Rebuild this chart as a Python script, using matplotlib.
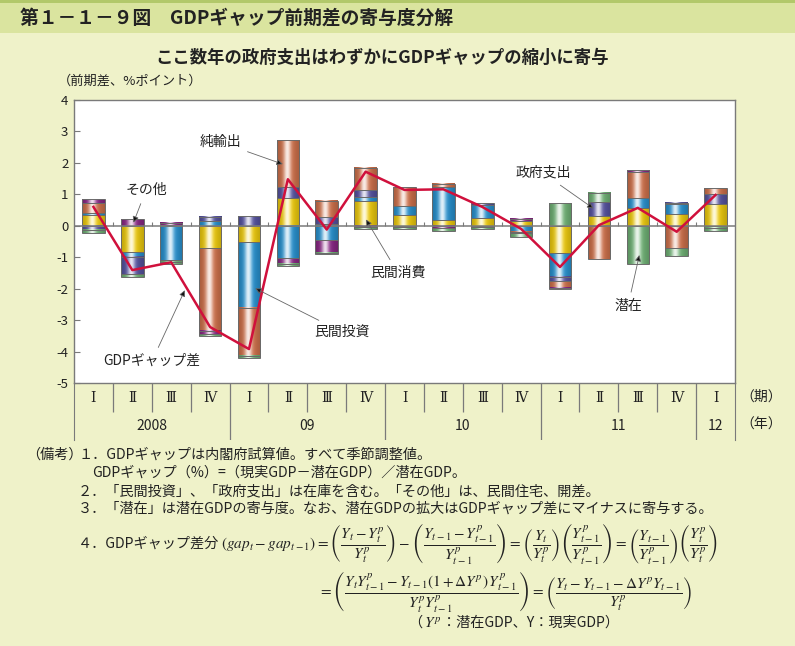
import numpy as np
import matplotlib
matplotlib.use('Agg')
import matplotlib.pyplot as plt
from matplotlib.colors import to_rgb
from matplotlib.patches import Rectangle

plt.rcParams['font.family'] = ['Noto Sans CJK JP', 'DejaVu Sans']
plt.rcParams['axes.unicode_minus'] = False
plt.rcParams['mathtext.fontset'] = 'stix'

W, H = 795, 646

# ── data ────────────────────────────────────────────────────────────────
quarter_labels = ['Ⅰ', 'Ⅱ', 'Ⅲ', 'Ⅳ'] * 4 + ['Ⅰ']
year_labels = ['2008', '09', '10', '11', '12']
year_first_q = [1, 5, 9, 13, 17]
year_last_q = [4, 8, 12, 16, 17]

consumption = [0.34, -0.84, 0.03, -0.72, -0.53, 0.89, 0.07, 0.79, 0.33,
               0.18, 0.25, 0.15, -0.86, 0.31, 0.58, 0.39, 0.70]
investment = [0.08, -0.15, -1.09, 0.16, -2.07, -1.04, -0.46, 0.14, 0.29,
              1.04, 0.41, -0.19, -0.76, 0.0, 0.29, 0.29, 0.0]
government = [-0.13, -0.55, -0.05, 0.13, 0.30, 0.35, 0.20, 0.21, -0.03,
              0.0, 0.05, 0.0, -0.13, 0.45, 0.0, 0.06, 0.30]
net_exports = [0.32, 0.0, 0.0, -2.63, -1.54, 1.49, 0.53, 0.71, 0.60,
               0.11, -0.03, -0.05, -0.22, -1.07, 0.85, -0.72, 0.19]
other = [0.11, 0.20, 0.07, -0.10, 0.0, -0.16, -0.39, -0.05, 0.0,
         -0.07, 0.0, 0.08, -0.04, 0.0, 0.05, 0.0, -0.06]
potential = [-0.10, -0.08, -0.07, -0.05, -0.08, -0.08, -0.06, -0.06, -0.06,
             -0.09, -0.08, -0.11, 0.71, 0.29, -1.20, -0.24, -0.11]
gdp_gap = [0.60, -1.41, -1.16, -3.22, -3.92, 1.48, -0.12, 1.72, 1.14,
           1.16, 0.60, -0.10, -1.31, 0.02, 0.57, -0.19, 0.98]

series = [consumption, investment, government, net_exports, other, potential]
colors = ['#f6d210', '#2b97d6', '#5a57a6', '#d6764f', '#8f2a8a', '#74b87a']

BG = '#eff2c9'


def fx(px):
    return px / W


def fy(py):
    return 1 - py / H


def shade(color, n=64):
    # cylinder-like horizontal gradient: light stripe left of centre
    base = np.array(to_rgb(color))
    t = np.linspace(0, 1, n)
    hi = 0.85 * np.exp(-((t - 0.45) / 0.16) ** 2)
    dark = 1 - 0.22 * np.abs(t - 0.5) * 2
    rgb = base[None, :] * dark[:, None]
    rgb = rgb + (1 - rgb) * hi[:, None]
    return rgb[None, :, :]


fig = plt.figure(figsize=(W / 100, H / 100), dpi=100, facecolor=BG)

# header band
fig.patches.append(Rectangle((0, fy(33)), 1, 33 / H, transform=fig.transFigure,
                             facecolor='#dae49f', edgecolor='none', zorder=0))
fig.patches.append(Rectangle((0, fy(3)), 1, 3 / H, transform=fig.transFigure,
                             facecolor='#b2c86a', edgecolor='none', zorder=0))
fig.text(fx(20), fy(18), '第１－１－９図　GDPギャップ前期差の寄与度分解',
         fontsize=13.5, fontweight='bold', color='#222', va='center', ha='left')
fig.text(fx(382), fy(58), 'ここ数年の政府支出はわずかにGDPギャップの縮小に寄与',
         fontsize=12.5, fontweight='bold', color='#222', va='center', ha='center')
fig.text(fx(58), fy(81), '（前期差、%ポイント）', fontsize=9.5, color='#222',
         va='center', ha='left')

# ── main chart ──────────────────────────────────────────────────────────
ax = fig.add_axes([fx(74), fy(383), (735 - 74) / W, (383 - 100) / H])
ax.set_facecolor('white')
n = len(gdp_gap)
x = np.arange(1, n + 1)
bw = 0.58

pos_bottom = np.zeros(n)
neg_bottom = np.zeros(n)
for vals, col in zip(series, colors):
    vals = np.asarray(vals, float)
    bottoms = np.where(vals >= 0, pos_bottom, neg_bottom)
    keep = vals != 0
    bars = ax.bar(x[keep], vals[keep], width=bw, bottom=bottoms[keep],
                  facecolor='none', edgecolor='#6a6a6a', lw=0.7, zorder=3)
    img = shade(col)
    for r in bars:
        x0, y0 = r.get_x(), r.get_y()
        ax.imshow(img, extent=(x0, x0 + r.get_width(), y0, y0 + r.get_height()),
                  aspect='auto', zorder=2, interpolation='bilinear')
    pos_bottom += np.where(vals > 0, vals, 0)
    neg_bottom += np.where(vals < 0, vals, 0)

ax.axhline(0, color='#7a7a7a', lw=1.1, zorder=4)
ax.vlines(np.arange(1.5, n), 0, 0.12, color='#7a7a7a', lw=0.8, zorder=4)
ax.plot(x, gdp_gap, color='#d0103c', lw=1.8, zorder=6)

ax.set_xlim(0.5, n + 0.5)
ax.set_ylim(-5, 4)
ax.set_yticks(range(-5, 5))
ax.set_xticks([])
ax.tick_params(axis='y', direction='in', length=4, width=0.8, color='#7a7a7a',
               labelsize=9.5, labelcolor='#222', pad=4)
for s in ax.spines.values():
    s.set_color('#7a7a7a')
    s.set_linewidth(1.0)

# annotations: (label, arrow target in data coords, text position in px)
notes = [
    ('純輸出', (5.87, 1.96), (220, 142)),
    ('その他', (2.03, 0.10), (146, 190)),
    ('GDPギャップ差', (3.35, -2.05), (152, 361)),
    ('民間投資', (5.16, -1.99), (342, 332)),
    ('民間消費', (8.01, 0.20), (398, 273)),
    ('政府支出', (13.86, 0.55), (543, 173)),
    ('潜在', (15.04, -0.93), (628, 306)),
]
for lab, tgt, (tx, ty) in notes:
    ax.annotate(lab, xy=tgt, xycoords='data', xytext=(fx(tx), fy(ty)),
                textcoords='figure fraction', ha='center', va='center',
                fontsize=10, color='#222', zorder=7,
                arrowprops=dict(arrowstyle='-|>', lw=0.6, ec='#666', fc='#111',
                                mutation_scale=9, shrinkA=3, shrinkB=0))

# ── category table under the chart ──────────────────────────────────────
tax = fig.add_axes([fx(74), fy(440), (735 - 74) / W, 57 / H])
tax.set_facecolor('none')
tax.set_xlim(0.5, n + 0.5)
tax.set_ylim(57, 0)
tax.set_xticks([])
tax.set_yticks([])
for side in ['top', 'bottom']:
    tax.spines[side].set_visible(False)
for side in ['left', 'right']:
    tax.spines[side].set_color('#7a7a7a')
year_bounds = [b + 0.5 for b in year_last_q[:-1]]
q_bounds = [b for b in np.arange(1.5, n) if b not in year_bounds]
tax.vlines(q_bounds, 0, 28.5, color='#7a7a7a', lw=0.9)
tax.vlines(year_bounds, 0, 57, color='#7a7a7a', lw=0.9)
for xi, ql in zip(x, quarter_labels):
    tax.text(xi, 15, ql, ha='center', va='center', fontsize=10, color='#222',
             family=['DejaVu Serif', 'Noto Sans CJK JP'])
for yl, a, b in zip(year_labels, year_first_q, year_last_q):
    tax.text((a + b) / 2, 43, yl, ha='center', va='center', fontsize=10,
             color='#222')
fig.text(fx(740), fy(397), '（期）', fontsize=10, color='#222', va='center',
         ha='left')
fig.text(fx(740), fy(425), '（年）', fontsize=10, color='#222', va='center',
         ha='left')

# ── remarks ─────────────────────────────────────────────────────────────
fs = 10.2
fig.text(fx(26), fy(455), '（備考）', fontsize=fs, color='#222', va='center')
fig.text(fx(78), fy(455), '１．GDPギャップは内閣府試算値。すべて季節調整値。',
         fontsize=fs, color='#222', va='center')
fig.text(fx(92), fy(473), 'GDPギャップ（%）=（現実GDP－潜在GDP）／潜在GDP。',
         fontsize=fs, color='#222', va='center')
fig.text(fx(78), fy(491), '２．「民間投資」、「政府支出」は在庫を含む。「その他」は、民間住宅、開差。',
         fontsize=fs, color='#222', va='center')
fig.text(fx(78), fy(509), '３．「潜在」は潜在GDPの寄与度。なお、潜在GDPの拡大はGDPギャップ差にマイナスに寄与する。',
         fontsize=fs, color='#222', va='center')

fig.canvas.draw()
renderer = fig.canvas.get_renderer()


def chain(pieces, px, py):
    # place text pieces one after another on the same row
    cur = fx(px)
    for s, kw in pieces:
        t = fig.text(cur, fy(py), s, va='center', ha='left', color='#222', **kw)
        bb = t.get_window_extent(renderer)
        cur = bb.x1 / W + 0.002
    return cur


f1 = (r'$(gap_t - gap_{t-1}) = \left(\dfrac{Y_t - Y_t^p}{Y_t^p}\right) - '
      r'\left(\dfrac{Y_{t-1} - Y_{t-1}^p}{Y_{t-1}^p}\right) = '
      r'\left(\dfrac{Y_t}{Y_t^p}\right)\left(\dfrac{Y_{t-1}^p}{Y_{t-1}^p}\right) = '
      r'\left(\dfrac{Y_{t-1}}{Y_{t-1}^p}\right)\left(\dfrac{Y_t^p}{Y_t^p}\right)$')
chain([('４．GDPギャップ差分', dict(fontsize=fs)), (f1, dict(fontsize=11))],
      78, 544)

f2 = (r'$= \left(\dfrac{Y_t Y_{t-1}^p - Y_{t-1}(1+\Delta Y^p)\,Y_{t-1}^p}'
      r'{Y_t^p Y_{t-1}^p}\right) = '
      r'\left(\dfrac{Y_t - Y_{t-1} - \Delta Y^p Y_{t-1}}{Y_t^p}\right)$')
fig.text(fx(318), fy(591), f2, fontsize=11, color='#222', va='center', ha='left')

chain([('（', dict(fontsize=fs)), (r'$Y^p$', dict(fontsize=11)),
       ('：潜在GDP、Y：現実GDP）', dict(fontsize=fs))], 408, 623)

fig.savefig('out.png', dpi=100, facecolor=BG)
